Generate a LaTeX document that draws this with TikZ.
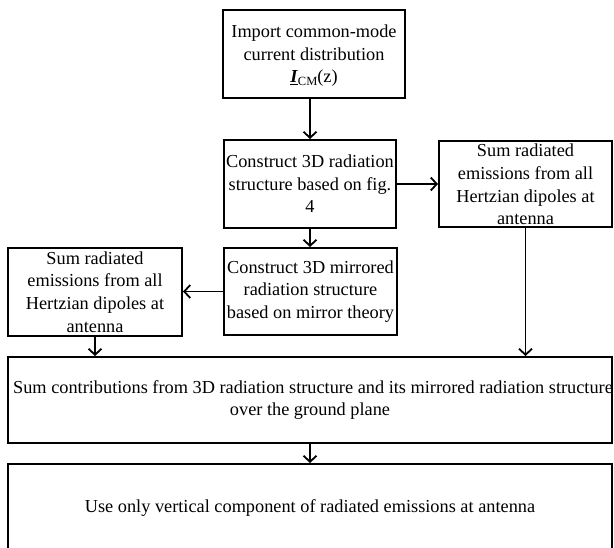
\documentclass[tikz,border=0pt]{standalone}
\usepackage{fontspec}
\setmainfont{Liberation Serif}
\usetikzlibrary{arrows.meta}

\begin{document}
\begin{tikzpicture}[x=1pt,y=-1pt]
\tikzstyle{stepbox}=[rectangle,draw,line width=2pt,align=center,inner sep=2pt,
  font=\fontsize{18.3}{22.6}\selectfont]
\tikzstyle{flow}=[line width=1.8pt,-{Straight Barb[length=6pt,width=13pt,line width=1.8pt]}]
\useasboundingbox (0,0) rectangle (614,548);
\node[stepbox,minimum width=182pt,minimum height=88pt] (import) at (314,54)
  {\rule{0pt}{5pt}Import common-mode\\current distribution\\\smash{\underline{\textbf{\textit{I}}}\raisebox{-0.35ex}{\fontsize{12.5}{12.5}\selectfont CM}(z)}};
\node[stepbox,minimum width=172pt,minimum height=88pt] (construct) at (310,184)
  {Construct 3D radiation\\structure based on fig.\\4};
\node[stepbox,minimum width=173pt,minimum height=86pt] (sumright) at (525.5,184.5)
  {Sum radiated\\emissions from all\\Hertzian dipoles at\\antenna};
\node[stepbox,minimum width=173pt,minimum height=87pt] (mirror) at (310.5,291.5)
  {Construct 3D mirrored\\radiation structure\\based on mirror theory};
\node[stepbox,minimum width=174pt,minimum height=88pt] (sumleft) at (95,292)
  {Sum radiated\\emissions from all\\Hertzian dipoles at\\antenna};
\node[stepbox,minimum width=604pt,minimum height=86pt] (contrib) at (310,400)
  {\makebox[590pt]{\hspace*{6pt}Sum contributions from 3D radiation structure and its mirrored radiation structure}\\over the ground plane};
\node[stepbox,minimum width=604pt,minimum height=88pt] (vertical) at (310,508)
  {Use only vertical component of radiated emissions at antenna};
\draw[flow] (import.south -| construct.north) -- (construct.north);
\draw[flow] (construct.east) -- (sumright.west |- construct.east);
\draw[flow] (construct.south) -- (mirror.north -| construct.south);
\draw[flow] (mirror.west) -- (sumleft.east |- mirror.west);
\draw[flow] (sumleft.south) -- (contrib.north -| sumleft.south);
\draw[flow] (sumright.south) -- (contrib.north -| sumright.south);
\draw[flow] (contrib.south) -- (vertical.north);
\end{tikzpicture}
\end{document}
